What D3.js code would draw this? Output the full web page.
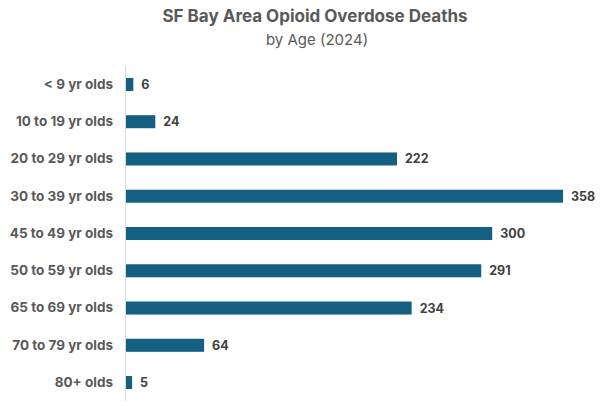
<!DOCTYPE html>
<html>
<head>
<meta charset="utf-8">
<script src="https://cdn.jsdelivr.net/npm/d3@7"></script>
<style>
    body { margin: 0; background: #fff; }
    #chart { width: 605px; height: 406px; }
    text { font-family: Inter, "Open Sans", sans-serif; }
</style>
</head>
<body>
<div id="chart"></div>
<script>
const ageGroups = ["< 9 yr olds", "10 to 19 yr olds", "20 to 29 yr olds", "30 to 39 yr olds",
    "45 to 49 yr olds", "50 to 59 yr olds", "65 to 69 yr olds", "70 to 79 yr olds", "80+ olds"];
const deaths = [6, 24, 222, 358, 300, 291, 234, 64, 5];

const margin = { top: 66, right: 42, bottom: 5, left: 126 };
const width = 605 - margin.left - margin.right,
    height = 406 - margin.top - margin.bottom;

const svg = d3.select("#chart").append("svg")
    .attr("width", 605)
    .attr("height", 406);

// Title
svg.append("text")
    .attr("x", 315)
    .attr("y", 22)
    .attr("text-anchor", "middle")
    .style("font-size", "17px")
    .style("font-weight", "bold")
    .style("fill", "#595959")
    .text("SF Bay Area Opioid Overdose Deaths");
svg.append("text")
    .attr("x", 317)
    .attr("y", 45)
    .attr("text-anchor", "middle")
    .style("font-size", "15px")
    .style("fill", "#595959")
    .text("by Age (2024)");

const g = svg.append("g")
    .attr("transform", "translate(" + margin.left + "," + margin.top + ")");

const x = d3.scaleLinear()
    .domain([0, 358])
    .range([0, 437]);

const y = d3.scaleBand()
    .domain(ageGroups)
    .range([0, height])
    .paddingInner(0.65)
    .paddingOuter(0.32);

const data = ageGroups.map((a, i) => ({ age: a, value: deaths[i] }));

g.selectAll(".bar")
    .data(data)
    .enter().append("rect")
    .attr("class", "bar")
    .attr("x", 0)
    .attr("y", d => y(d.age))
    .attr("width", d => x(d.value))
    .attr("height", y.bandwidth())
    .style("fill", "#156082");

g.selectAll(".val")
    .data(data)
    .enter().append("text")
    .attr("class", "val")
    .attr("x", d => x(d.value) + 8)
    .attr("y", d => y(d.age) + y.bandwidth() / 2)
    .attr("dy", "0.36em")
    .style("font-size", "12.5px")
    .style("font-weight", "bold")
    .style("fill", "#404040")
    .text(d => d.value);

const yAxis = d3.axisLeft(y).tickSize(0).tickPadding(13);
g.append("g")
    .attr("class", "y-axis")
    .call(yAxis)
    .call(a => a.select(".domain").attr("stroke", "#d9d9d9").attr("d", "M-0.5,0V" + height))
    .selectAll("text")
    .style("font-size", "13.5px")
    .style("font-weight", "bold")
    .style("fill", "#595959")
    .style("font-family", "Inter, 'Open Sans', sans-serif");
</script>
</body>
</html>
